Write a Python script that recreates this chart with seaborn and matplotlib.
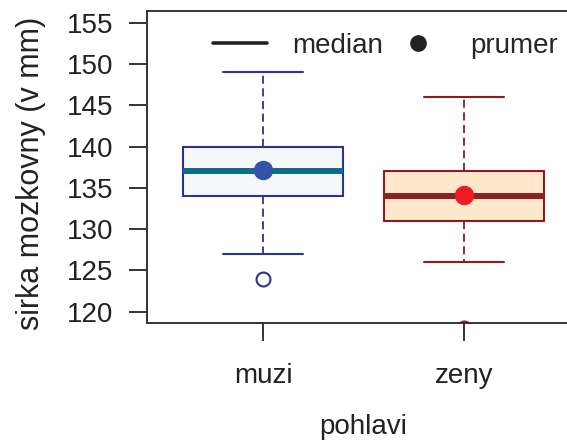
import numpy as np
import pandas as pd
import matplotlib
matplotlib.use('Agg')
import matplotlib.pyplot as plt
from matplotlib.lines import Line2D
import seaborn as sns

# data (quartiles, whiskers, outliers, means)
groups = ['muzi', 'zeny']
muzi_sirka = [124, 127, 134, 136, 137, 139, 140, 148, 149]
zeny_sirka = [118, 126, 131, 133, 134, 136, 137, 146, 146]
yticks = [120, 125, 130, 135, 140, 145, 150, 155]

df = pd.DataFrame({
    'pohlavi': ['muzi'] * len(muzi_sirka) + ['zeny'] * len(zeny_sirka),
    'sirka': muzi_sirka + zeny_sirka,
})

sns.set_style('white')
plt.rcParams['font.family'] = ['Liberation Sans', 'DejaVu Sans']

# colours per group
edge_cols = {'muzi': '#2e3190', 'zeny': '#8e1b1e'}
fill_cols = {'muzi': '#f4f8f8', 'zeny': '#ffe8cc'}
med_cols = {'muzi': '#0f6d8c', 'zeny': '#8b2224'}
mean_cols = {'muzi': '#3352a8', 'zeny': '#ed1c24'}

fig = plt.figure(figsize=(5.67, 4.42), dpi=100)
ax = fig.add_axes([147 / 567, (442 - 322.5) / 442, (580 - 147) / 567, (322.5 - 11) / 442])

for g in groups:
    sub = df[df['pohlavi'] == g]
    sns.boxplot(
        data=sub, x='pohlavi', y='sirka', order=groups, ax=ax,
        color=fill_cols[g], linecolor=edge_cols[g], saturation=1,
        width=0.8, whis=1.5, linewidth=1.5,
        medianprops=dict(color=med_cols[g], linewidth=4.3),
        whiskerprops=dict(linestyle=(0, (4.5, 2.5)), linewidth=1.3),
        capprops=dict(linewidth=1.5),
        flierprops=dict(marker='o', markersize=10, markerfacecolor='none',
                        markeredgecolor=edge_cols[g], markeredgewidth=1.5),
        showmeans=True,
        meanprops=dict(marker='o', markersize=13, markerfacecolor=mean_cols[g],
                       markeredgecolor=mean_cols[g]),
    )

ax.set_xlim(-0.58, 1.58)
ax.set_ylim(118.7, 156.4)
ax.set_yticks(yticks)

for s in ax.spines.values():
    s.set_color('#333333')
    s.set_linewidth(1.4)

ax.tick_params(axis='both', which='both', direction='out', length=13, width=1.4,
               colors='#333333', labelcolor='#222222', labelsize=20)
ax.tick_params(axis='y', left=True, pad=11)
ax.tick_params(axis='x', bottom=True, pad=16)

ax.set_xlabel('pohlavi', fontsize=20, color='#222222', labelpad=18)
ax.set_ylabel('sirka mozkovny (v mm)', fontsize=22, color='#222222')
ax.yaxis.set_label_coords((46 - 147) / 433, 0.48)

handles = [
    Line2D([], [], color='#222222', lw=2.6),
    Line2D([], [], marker='o', ls='none', color='#222222', markersize=11),
]
ax.legend(handles, ['median', 'prumer'], ncol=2, frameon=False,
          loc='center left', bbox_to_anchor=(213 / 567, 1 - 46 / 442),
          bbox_transform=fig.transFigure, borderpad=0, borderaxespad=0,
          handlelength=1.95, handletextpad=0.9, columnspacing=0.3,
          prop={'size': 20})

fig.savefig('out.png', dpi=100)
